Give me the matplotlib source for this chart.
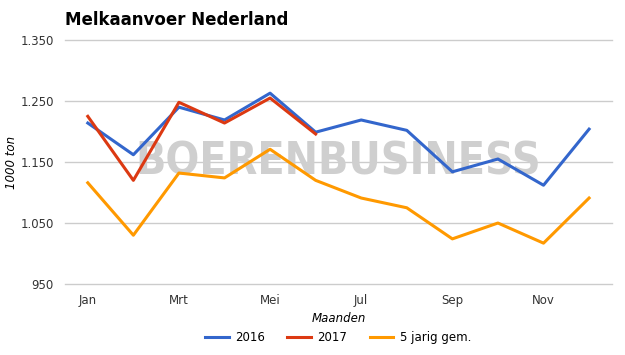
import matplotlib
matplotlib.use("Agg")
import matplotlib.pyplot as plt
from matplotlib.ticker import FuncFormatter

maanden = ["Jan", "Feb", "Mrt", "Apr", "Mei", "Jun", "Jul", "Aug", "Sep", "Okt", "Nov", "Dec"]
tick_maanden = ["Jan", "Mrt", "Mei", "Jul", "Sep", "Nov"]
jaar_2016 = [1214, 1162, 1240, 1219, 1263, 1199, 1219, 1202, 1134, 1155, 1112, 1204]
jaar_2017 = [1225, 1120, 1248, 1214, 1255, 1196]
gem_5jaar = [1116, 1030, 1132, 1124, 1171, 1120, 1091, 1075, 1024, 1050, 1017, 1091]
y_ticks = [950, 1050, 1150, 1250, 1350]

fig = plt.figure(figsize=(6.25, 3.55), dpi=100)
ax = fig.add_axes([0.104, 0.2, 0.875, 0.687])

x = list(range(len(maanden)))
ax.plot(x, jaar_2016, color="#3366cc", lw=2.2, label="2016", zorder=3)
ax.plot(x[:len(jaar_2017)], jaar_2017, color="#dc3912", lw=2.2, label="2017", zorder=4)
ax.plot(x, gem_5jaar, color="#ff9900", lw=2.2, label="5 jarig gem.", zorder=3)

# watermerk
ax.text(0.5, 0.5, "BOERENBUSINESS", transform=ax.transAxes, ha="center", va="center",
        fontsize=32, fontweight="heavy", color="#cfcfcf", zorder=2, fontstretch="condensed")

ax.set_xlim(-0.5, 11.5)
ax.set_ylim(950, 1350)
ax.set_yticks(y_ticks)
ax.yaxis.set_major_formatter(FuncFormatter(lambda v, p: f"{int(v):,}".replace(",", ".")))
ax.set_xticks([maanden.index(m) for m in tick_maanden])
ax.set_xticklabels(tick_maanden)
ax.grid(axis="y", color="#cccccc", lw=1)
for gl in ax.get_ygridlines():
    gl.set_clip_on(False)
ax.set_axisbelow(True)
for s in ax.spines.values():
    s.set_visible(False)
ax.tick_params(length=0, labelsize=8.5, colors="#333333")
ax.tick_params(axis="y", pad=8)
ax.tick_params(axis="x", pad=7)

ax.set_xlabel("Maanden", fontstyle="italic", fontsize=8.5, labelpad=4)
ax.set_ylabel("1000 ton", fontstyle="italic", fontsize=8.5, labelpad=2)

fig.text(0.104, 0.943, "Melkaanvoer Nederland", fontsize=12, fontweight="bold", va="center")

fig.legend(loc="lower center", bbox_to_anchor=(0.541, 0.0), ncol=3, frameon=False,
           fontsize=8.5, handlelength=2.0, handletextpad=0.55, columnspacing=1.9)

fig.savefig("out.png", dpi=100)
